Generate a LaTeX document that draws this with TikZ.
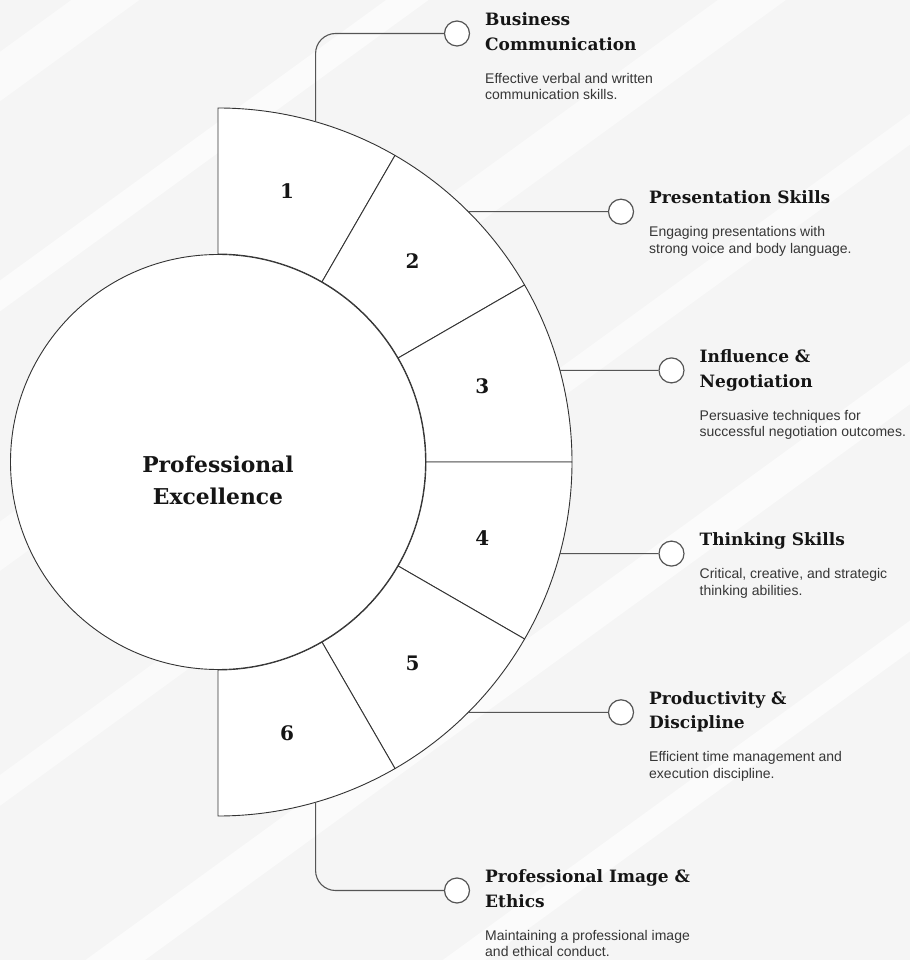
\documentclass[tikz,border=0pt]{standalone}
\usepackage{fontspec}
\newfontfamily\headfont{DejaVu Serif}
\newfontfamily\descfont{Liberation Sans}

\definecolor{pagegray}{HTML}{F5F5F5}
\definecolor{edgegray}{HTML}{333333}
\definecolor{linkgray}{HTML}{555555}
\definecolor{headink}{HTML}{151515}
\definecolor{descink}{HTML}{363636}

\tikzset{
  ringpart/.style={draw=edgegray, fill=white, line width=0.9pt},
  hub/.style={circle, draw=edgegray, fill=white, line width=0.9pt, minimum size=415pt, inner sep=0},
  hubtext/.style={align=center, inner sep=0, text=headink, font=\headfont\bfseries\fontsize{21.8}{32}\selectfont},
  segnum/.style={inner sep=0, text=headink, font=\headfont\bfseries\fontsize{20}{24}\selectfont},
  bulletdot/.style={circle, draw=linkgray, fill=white, line width=1.2pt, minimum size=25pt, inner sep=0},
  link/.style={draw=linkgray, line width=1.1pt},
  headtext/.style={anchor=north west, align=left, inner sep=0, text=headink, font=\headfont\bfseries\fontsize{17}{24.5}\selectfont},
  desctext/.style={anchor=north west, align=left, inner sep=0, text=descink, font=\descfont\fontsize{14}{16.8}\selectfont}
}

\begin{document}
\begin{tikzpicture}[x=1pt, y=1pt]

    % Page and soft diagonal bands
    \fill[pagegray] (-218,-498) rectangle (692,462);
    \begin{scope}
      \clip (-218,-498) rectangle (692,462);
      \fill[white, opacity=0.6, rotate=36] (-1200,-560) rectangle (1400,-535);
      \fill[white, opacity=0.6, rotate=36] (-1200,-360) rectangle (1400,-325);
      \fill[white, opacity=0.5, rotate=36] (-1200,-150) rectangle (1400,-125);
      \fill[white, opacity=0.5, rotate=36] (-1200,40) rectangle (1400,80);
      \fill[white, opacity=0.6, rotate=36] (-1200,250) rectangle (1400,275);
      \fill[white, opacity=0.5, rotate=36] (-1200,420) rectangle (1400,460);
    \end{scope}
    \useasboundingbox (-218,-498) rectangle (692,462);

    % Ring segments
    \draw[ringpart] (90:208) -- (90:354) arc[start angle=90, end angle=60, radius=354] -- (60:208) arc[start angle=60, end angle=90, radius=208] -- cycle;
    \draw[ringpart] (60:208) -- (60:354) arc[start angle=60, end angle=30, radius=354] -- (30:208) arc[start angle=30, end angle=60, radius=208] -- cycle;
    \draw[ringpart] (30:208) -- (30:354) arc[start angle=30, end angle=0, radius=354] -- (0:208) arc[start angle=0, end angle=30, radius=208] -- cycle;
    \draw[ringpart] (0:208) -- (0:354) arc[start angle=0, end angle=-30, radius=354] -- (-30:208) arc[start angle=-30, end angle=0, radius=208] -- cycle;
    \draw[ringpart] (-30:208) -- (-30:354) arc[start angle=-30, end angle=-60, radius=354] -- (-60:208) arc[start angle=-60, end angle=-30, radius=208] -- cycle;
    \draw[ringpart] (-60:208) -- (-60:354) arc[start angle=-60, end angle=-90, radius=354] -- (-90:208) arc[start angle=-90, end angle=-60, radius=208] -- cycle;

    % Hub
    \node[hub] (hub) at (0,0) {};
    \node[hubtext] (hubtext) at (0,-18) {Professional\\Excellence};

    % Segment numbers
    \node[segnum] (n1) at (75.7:280) {1};
    \node[segnum] (n2) at (46:280) {2};
    \node[segnum] (n3) at (16:275) {3};
    \node[segnum] (n4) at (-16:275) {4};
    \node[segnum] (n5) at (-46:280) {5};
    \node[segnum] (n6) at (-75.7:280) {6};

    % Connector starts on the outer rim
    \coordinate (s1) at (74:354);
    \coordinate (s2) at (45:354);
    \coordinate (s3) at (15:354);
    \coordinate (s4) at (-15:354);
    \coordinate (s5) at (-45:354);
    \coordinate (s6) at (-74:354);

    % Bullets
    \node[bulletdot] (b1) at (239,428.5) {};
    \node[bulletdot] (b2) at (403,250.3) {};
    \node[bulletdot] (b3) at (453.5,91.6) {};
    \node[bulletdot] (b4) at (453.5,-91.6) {};
    \node[bulletdot] (b5) at (403,-250.3) {};
    \node[bulletdot] (b6) at (239,-428.5) {};

    % Connectors
    \draw[link, rounded corners=20pt] (s1) |- (b1);
    \draw[link] (s2) -- (b2);
    \draw[link] (s3) -- (b3);
    \draw[link] (s4) -- (b4);
    \draw[link] (s5) -- (b5);
    \draw[link, rounded corners=20pt] (s6) |- (b6);

    % Titles
    \node[headtext] (t1) at ([shift={(28,21)}]b1.center) {Business\\Communication};
    \node[headtext] (t2) at ([shift={(28,21)}]b2.center) {Presentation Skills};
    \node[headtext] (t3) at ([shift={(28,21)}]b3.center) {Influence \&\\Negotiation};
    \node[headtext] (t4) at ([shift={(28,21)}]b4.center) {Thinking Skills};
    \node[headtext] (t5) at ([shift={(28,21)}]b5.center) {Productivity \&\\Discipline};
    \node[headtext] (t6) at ([shift={(28,21)}]b6.center) {Professional Image \&\\Ethics};

    % Descriptions
    \node[desctext] (d1) at ([shift={(28,-39.3)}]b1.center) {Effective verbal and written\\communication skills.};
    \node[desctext] (d2) at ([shift={(28,-14.8)}]b2.center) {Engaging presentations with\\strong voice and body language.};
    \node[desctext] (d3) at ([shift={(28,-39.3)}]b3.center) {Persuasive techniques for\\successful negotiation outcomes.};
    \node[desctext] (d4) at ([shift={(28,-14.8)}]b4.center) {Critical, creative, and strategic\\thinking abilities.};
    \node[desctext] (d5) at ([shift={(28,-39.3)}]b5.center) {Efficient time management and\\execution discipline.};
    \node[desctext] (d6) at ([shift={(28,-39.3)}]b6.center) {Maintaining a professional image\\and ethical conduct.};

\end{tikzpicture}
\end{document}
